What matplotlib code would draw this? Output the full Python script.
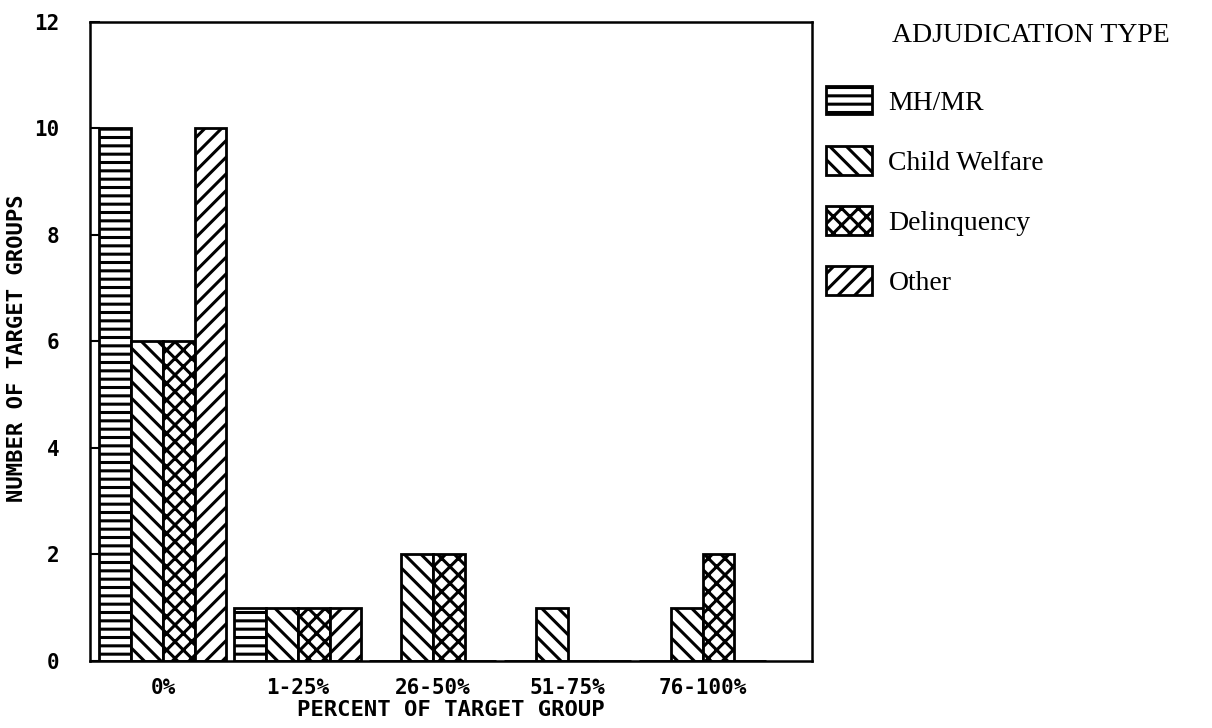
import numpy as np
import matplotlib
matplotlib.use("Agg")
import matplotlib.pyplot as plt
from matplotlib.patches import Patch

# Data
categories = ["0%", "1-25%", "26-50%", "51-75%", "76-100%"]
series_names = ["MH/MR", "Child Welfare", "Delinquency", "Other"]
mh_mr = [10, 1, 0, 0, 0]
child_welfare = [6, 1, 2, 1, 1]
delinquency = [6, 1, 2, 0, 2]
other = [10, 1, 0, 0, 0]
y_ticks = [0, 2, 4, 6, 8, 10, 12]

series = [mh_mr, child_welfare, delinquency, other]
hatches = ["--", "\\\\", "xx", "//"]

plt.rcParams["hatch.linewidth"] = 2.2

mono = "DejaVu Sans Mono"
serif = "Liberation Serif"

fig = plt.figure(figsize=(12.12, 7.28), dpi=100)
ax = fig.add_axes([0.0743, 0.092, 0.5957, 0.878])

x = np.arange(len(categories))
width = 0.235
offsets = (np.arange(len(series)) - 1.5) * width

for vals, off, h in zip(series, offsets, hatches):
    ax.bar(x + off, vals, width, facecolor="white", edgecolor="black",
           linewidth=2, hatch=h)

ax.set_xlim(-0.54, 4.81)
ax.set_ylim(0, 12)
ax.set_xticks(x)
ax.set_xticklabels(categories, fontfamily=mono, fontweight="bold", fontsize=15)
ax.set_yticks(y_ticks)
ax.set_yticklabels([str(t) for t in y_ticks], fontfamily=mono,
                   fontweight="bold", fontsize=15)
ax.tick_params(axis="x", length=0, pad=12)
ax.tick_params(axis="y", direction="in", length=7, width=1.5, pad=22)
for s in ax.spines.values():
    s.set_linewidth(1.8)

ax.set_xlabel("PERCENT OF TARGET GROUP", fontfamily=mono, fontweight="bold",
              fontsize=16, labelpad=2)
ax.set_ylabel("NUMBER OF TARGET GROUPS", fontfamily=mono, fontweight="bold",
              fontsize=16)
ax.yaxis.set_label_coords(-0.088, 0.49)

# Legend outside the axes, with its heading as separate text
handles = [Patch(facecolor="white", edgecolor="black", linewidth=2, hatch=h)
           for h in hatches]
fig.text(892 / 1212, 1 - 36 / 728, "ADJUDICATION TYPE", fontfamily=serif,
         fontsize=20, va="center", ha="left")
fig.legend(handles, series_names, loc="upper left",
           bbox_to_anchor=(826 / 1212, 1 - 86 / 728), frameon=False,
           prop={"family": serif, "size": 20}, handlelength=1.65,
           handleheight=1.2, labelspacing=1.1, handletextpad=0.6,
           borderpad=0, borderaxespad=0)

fig.savefig("out.png", dpi=100)
